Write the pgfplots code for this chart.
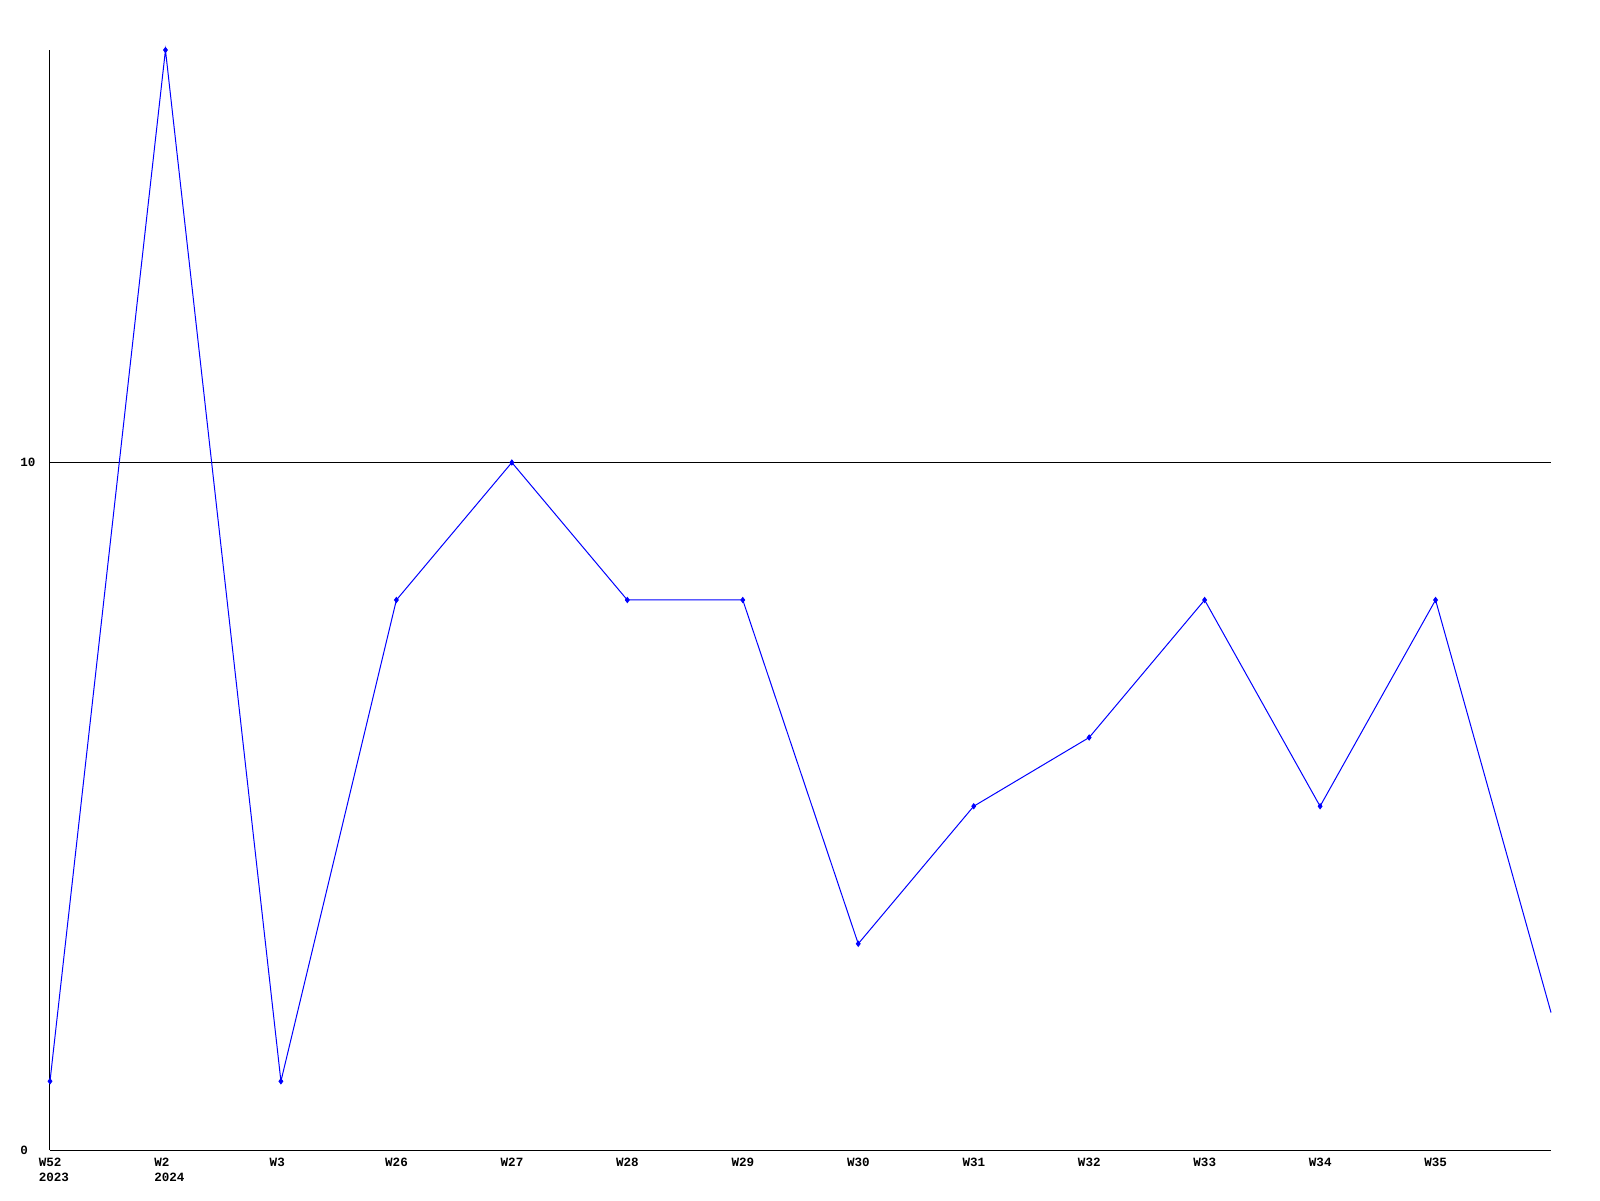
\documentclass[border=0pt]{standalone}
\usepackage{pgfplots}
\pgfplotsset{compat=1.18}
\usepackage{fontspec}
\setmainfont{Liberation Mono}
\begin{document}
\begin{tikzpicture}
\path[fill=white] (-25pt,-25pt) rectangle (775pt,575pt);
\begin{axis}[
  scale only axis,
  width=750.5pt, height=550pt,
  anchor=south west, at={(0,0)},
  xmin=0, xmax=13, ymin=0, ymax=16,
  axis x line*=bottom, axis y line*=left,
  axis line style={-, line width=0.5pt, black},
  xtick={0,...,12},
  xticklabels={{W52\\2023},{W2\\2024},W3,W26,W27,W28,W29,W30,W31,W32,W33,W34,W35},
  ytick={0,10},
  major tick length=0pt,
  ymajorgrids,
  grid style={line width=0.5pt, black, solid},
  xticklabel style={anchor=north west, inner sep=0pt, xshift=-5.8pt, yshift=-4pt, align=left, font=\bfseries\fontsize{6.3}{7.5}\selectfont},
  yticklabel style={anchor=west, inner sep=0pt, xshift=-15pt, font=\bfseries\fontsize{6.3}{7.5}\selectfont},
  /pgf/number format/assume math mode=true,
  clip=false,
]
\addplot[blue, line width=0.5pt, mark=none] coordinates {
(0,1) (1,16) (2,1) (3,8) (4,10) (5,8) (6,8) (7,3) (8,5) (9,6) (10,8) (11,5) (12,8) (13,2)
};
\addplot[blue, only marks, mark=diamond*, mark size=1.3pt] coordinates {
(0,1) (1,16) (2,1) (3,8) (4,10) (5,8) (6,8) (7,3) (8,5) (9,6) (10,8) (11,5) (12,8)
};
\end{axis}
\end{tikzpicture}
\end{document}
